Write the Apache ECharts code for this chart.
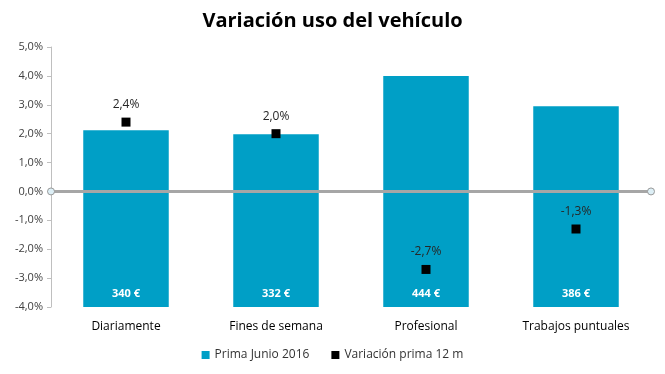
<!DOCTYPE html>
<html>
<head>
<meta charset="utf-8">
<script src="https://cdn.jsdelivr.net/npm/echarts@6/dist/echarts.min.js"></script>
<style>html,body{margin:0;padding:0;background:#fff}#c{width:665px;height:374px}</style>
</head>
<body>
<div id="c"></div>
<script>
const categories = ['Diariamente', 'Fines de semana', 'Profesional', 'Trabajos puntuales'];
const primaValues = [340, 332, 444, 386];
const variacionValues = [2.4, 2.0, -2.7, -1.3];
const zeroLine = [[0, 0], [1, 0]];

const FONT = '"Open Sans", "Noto Sans", sans-serif';
const fmtPct = v => v.toFixed(1).replace('.', ',') + '%';

const chart = echarts.init(document.getElementById('c'), null, {renderer: 'canvas'});
chart.setOption({
  animation: false,
  backgroundColor: '#fff',
  title: {
    text: 'Variación uso del vehículo',
    left: 'center', top: 6,
    textStyle: {fontFamily: FONT, fontSize: 20, fontWeight: 'bold', color: '#000'}
  },
  legend: {
    bottom: 8, left: 'center',
    itemWidth: 8, itemHeight: 8, itemGap: 22,
    itemStyle: {borderWidth: 0},
    textStyle: {fontFamily: FONT, fontSize: 12, color: '#333'},
    data: [
      {name: 'Prima Junio 2016', icon: 'rect'},
      {name: 'Variación prima 12 m', icon: 'rect'}
    ]
  },
  grid: {left: 51, right: 14, top: 47, bottom: 67},
  xAxis: [
    {
      type: 'category', data: categories,
      axisLine: {lineStyle: {color: '#BFBFBF', width: 1}},
      axisTick: {show: false},
      axisLabel: {fontFamily: FONT, fontSize: 12, color: '#000', margin: 14}
    },
    {
      type: 'value', min: 0, max: 1, show: false
    }
  ],
  yAxis: [
    {
      type: 'value', min: -4, max: 5, interval: 1,
      axisLine: {show: true, lineStyle: {color: '#BFBFBF'}},
      axisTick: {show: true, length: 4, lineStyle: {color: '#BFBFBF'}},
      splitLine: {show: false},
      axisLabel: {fontFamily: FONT, fontSize: 11, color: '#404040', margin: 8, formatter: v => fmtPct(v)}
    },
    {
      type: 'value', min: 0, max: 500, show: false, splitLine: {show: false}
    }
  ],
  series: [
    {
      name: 'Prima Junio 2016', type: 'bar', yAxisIndex: 1, xAxisIndex: 0,
      data: primaValues, barWidth: '57%',
      itemStyle: {color: '#009FC6'},
      label: {
        show: true, position: 'insideBottom', distance: 8,
        formatter: p => p.value + ' €',
        fontFamily: FONT, fontSize: 11, fontWeight: 'bold', color: '#fff'
      },
      z: 2
    },
    {
      name: 'zero', type: 'line', xAxisIndex: 1, yAxisIndex: 0,
      data: zeroLine, symbol: 'circle', symbolSize: 7, showSymbol: true,
      lineStyle: {color: '#A6A6A6', width: 3},
      itemStyle: {color: '#DDEFF6', borderColor: '#999', borderWidth: 1},
      silent: true, z: 3
    },
    {
      name: 'Variación prima 12 m', type: 'scatter', yAxisIndex: 0, xAxisIndex: 0,
      data: variacionValues, symbol: 'rect', symbolSize: 9,
      itemStyle: {color: '#000', opacity: 1},
      label: {
        show: true, position: 'top', distance: 7,
        formatter: p => fmtPct(p.value),
        fontFamily: FONT, fontSize: 12, color: '#262626'
      },
      z: 4
    }
  ]
});
</script>
</body>
</html>
